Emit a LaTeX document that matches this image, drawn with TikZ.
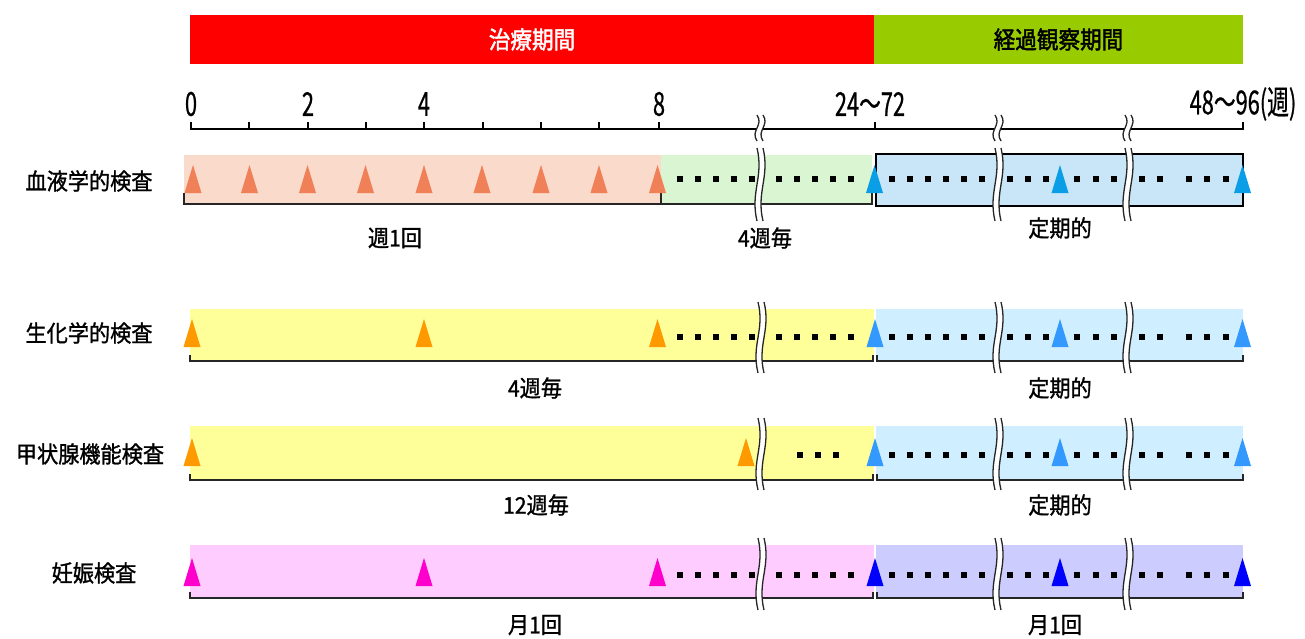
\documentclass[tikz,border=0pt]{standalone}
\usepackage{fontspec}
\newfontfamily\jp[FakeStretch=0.92,FakeBold=1.2]{Noto Sans CJK JP}
\newfontfamily\jph[FakeStretch=0.9,FakeBold=1.8]{Noto Sans CJK JP}
\newfontfamily\jpn[FakeStretch=0.66,FakeBold=0.6]{Noto Sans CJK JP}
\definecolor{hdrred}{HTML}{FF0000}
\definecolor{hdrgreen}{HTML}{99CC00}
\definecolor{peach}{HTML}{FADACA}
\definecolor{mint}{HTML}{DAF5D2}
\definecolor{skyA}{HTML}{C8E6F8}
\definecolor{skyB}{HTML}{CFEEFF}
\definecolor{lyellow}{HTML}{FFFF99}
\definecolor{lpink}{HTML}{FFCCFF}
\definecolor{lavender}{HTML}{CCCCFF}
\definecolor{coral}{HTML}{EF8058}
\definecolor{orangeT}{HTML}{FF9900}
\definecolor{blueA}{HTML}{0A9EE6}
\definecolor{blueB}{HTML}{3399FF}
\definecolor{blueC}{HTML}{0000FF}
\definecolor{magentaT}{HTML}{FF00CC}
\newcommand\brkmark[3]{%
  \pgfmathsetmacro\brkya{#2+0.4*(#3-#2)}%
  \pgfmathsetmacro\brkyb{#2+0.6*(#3-#2)}%
  \fill[white] ({#1-3},#2) .. controls ({#1+4},\brkya) and ({#1-10},\brkyb) .. ({#1-3},#3)
     -- ({#1+3},#3) .. controls ({#1-4},\brkyb) and ({#1+10},\brkya) .. ({#1+3},#2) -- cycle;
  \draw[brkline] ({#1-3},#2) .. controls ({#1+4},\brkya) and ({#1-10},\brkyb) .. ({#1-3},#3);
  \draw[brkline] ({#1+3},#2) .. controls ({#1+10},\brkya) and ({#1-4},\brkyb) .. ({#1+3},#3);
}
\tikzset{
  axisline/.style={line width=2pt, black},
  bracketline/.style={line width=2pt, black!85},
  brkline/.style={line width=1.3pt, black!85},
  lbl/.style={font=\jp\fontsize{23}{27}\selectfont, inner sep=0pt},
  num/.style={font=\jpn\fontsize{33}{36}\selectfont, inner sep=0pt},
  hdr/.style={font=\jph\fontsize{24}{28}\selectfont, inner sep=0pt, minimum height=49pt},
  tri/.pic={\fill[#1] (-8.5,0) -- (0,-28) -- (8.5,0) -- cycle;},
  sq/.style={fill=black},
}
\begin{document}
\begin{tikzpicture}[x=1pt,y=-1pt]
\useasboundingbox (0,0) rectangle (1305,639);

% header bars
\node[hdr, fill=hdrred, minimum width=684pt, text=white] (treat) at (532,39.5) {治療期間};
\node[hdr, fill=hdrgreen, minimum width=369pt, text=black] (obs) at (1058.5,39.5) {経過観察期間};

% axis
\draw[axisline] (191,122) -- (191,129) -- (1243,129) -- (1243,122);
\foreach \t in {249,308,366,424,483,541,599,659,875} \draw[axisline] (\t,129) -- (\t,122);
\node[num] (n0) at (191,104) {0};
\node[num] (n2) at (308,104) {2};
\node[num] (n4) at (424,104) {4};
\node[num] (n8) at (659,104) {8};
\node[num] (n24) at (870,104) {24～72};
\node[num] (n48) at (1243,104) {48～96(週)};
\foreach \b in {760,998,1128} \brkmark{\b}{115}{141};

% ---------- Row 1 ----------
\fill[peach] (184,155) rectangle (661,204);
\fill[mint] (661,155) rectangle (872,204);
\filldraw[fill=skyA, draw=black, line width=1.6pt] (876,154) rectangle (1243,206);
\draw[bracketline] (184,193) -- (184,204) -- (872,204) -- (872,193);
\draw[bracketline] (661,204) -- (661,193);
\foreach \x in {193,249.5,307.5,365.5,424,482,541,599,657.5} \pic at (\x,193) {tri=coral};
\foreach \x in {874.5,1060,1242.5} \pic at (\x,193) {tri=blueA};
\foreach \x in {680,698,716,734,752,779,797,815,833,851,892,910,928,946,964,982,1010,1028,1046,1077,1096,1114,1142,1160,1189,1207,1226}
  \fill[sq] (\x-3,176) rectangle (\x+3,182);
\foreach \b in {760,998,1128} \brkmark{\b}{148}{221};
\node[lbl] (r1name) at (89,181) {血液学的検査};
\node[lbl] (r1a) at (395,238) {週1回};
\node[lbl] (r1b) at (765,238) {4週毎};
\node[lbl] (r1c) at (1060,228) {定期的};

% ---------- Row 2 ----------
\fill[lyellow] (190,309) rectangle (874,360);
\fill[skyB] (876,309) rectangle (1243,360);
\draw[bracketline] (190,355) -- (190,361) -- (873,361) -- (873,355);
\draw[bracketline] (877,355) -- (877,361) -- (1243,361) -- (1243,355);
\foreach \x in {192,424,657.5} \pic at (\x,347) {tri=orangeT};
\foreach \x in {875,1060,1242.5} \pic at (\x,347) {tri=blueB};
\foreach \x in {680,698,716,734,752,779,797,815,833,851,892,910,928,946,964,982,1010,1028,1046,1077,1096,1114,1142,1160,1189,1207,1226}
  \fill[sq] (\x-3,334) rectangle (\x+3,340);
\foreach \b in {761,998,1128} \brkmark{\b}{302}{373};
\node[lbl] (r2name) at (89,333) {生化学的検査};
\node[lbl] (r2a) at (535,388) {4週毎};
\node[lbl] (r2c) at (1060,388) {定期的};

% ---------- Row 3 ----------
\fill[lyellow] (190,426) rectangle (874,479);
\fill[skyB] (876,426) rectangle (1243,479);
\draw[bracketline] (190,474) -- (190,480) -- (873,480) -- (873,474);
\draw[bracketline] (877,474) -- (877,480) -- (1243,480) -- (1243,474);
\foreach \x in {192,746} \pic at (\x,466) {tri=orangeT};
\foreach \x in {875,1060,1242.5} \pic at (\x,466) {tri=blueB};
\foreach \x in {800,818,836,892,910,928,946,964,982,1010,1028,1046,1077,1096,1114,1142,1160,1189,1207,1226}
  \fill[sq] (\x-3,452) rectangle (\x+3,458);
\foreach \b in {761,998,1128} \brkmark{\b}{418}{490};
\node[lbl] (r3name) at (90,454) {甲状腺機能検査};
\node[lbl] (r3a) at (536,505) {12週毎};
\node[lbl] (r3c) at (1060,505) {定期的};

% ---------- Row 4 ----------
\fill[lpink] (190,545) rectangle (874,597);
\fill[lavender] (876,545) rectangle (1243,597);
\draw[bracketline] (190,592) -- (190,598) -- (873,598) -- (873,592);
\draw[bracketline] (877,592) -- (877,598) -- (1243,598) -- (1243,592);
\foreach \x in {192,424,657.5} \pic at (\x,586) {tri=magentaT};
\foreach \x in {875,1060,1242.5} \pic at (\x,586) {tri=blueC};
\foreach \x in {680,698,716,734,752,779,797,815,833,851,892,910,928,946,964,982,1010,1028,1046,1077,1096,1114,1142,1160,1189,1207,1226}
  \fill[sq] (\x-3,572) rectangle (\x+3,578);
\foreach \b in {761,998,1128} \brkmark{\b}{538}{610};
\node[lbl] (r4name) at (94,573) {妊娠検査};
\node[lbl] (r4a) at (535,625) {月1回};
\node[lbl] (r4c) at (1055,625) {月1回};
\end{tikzpicture}
\end{document}
